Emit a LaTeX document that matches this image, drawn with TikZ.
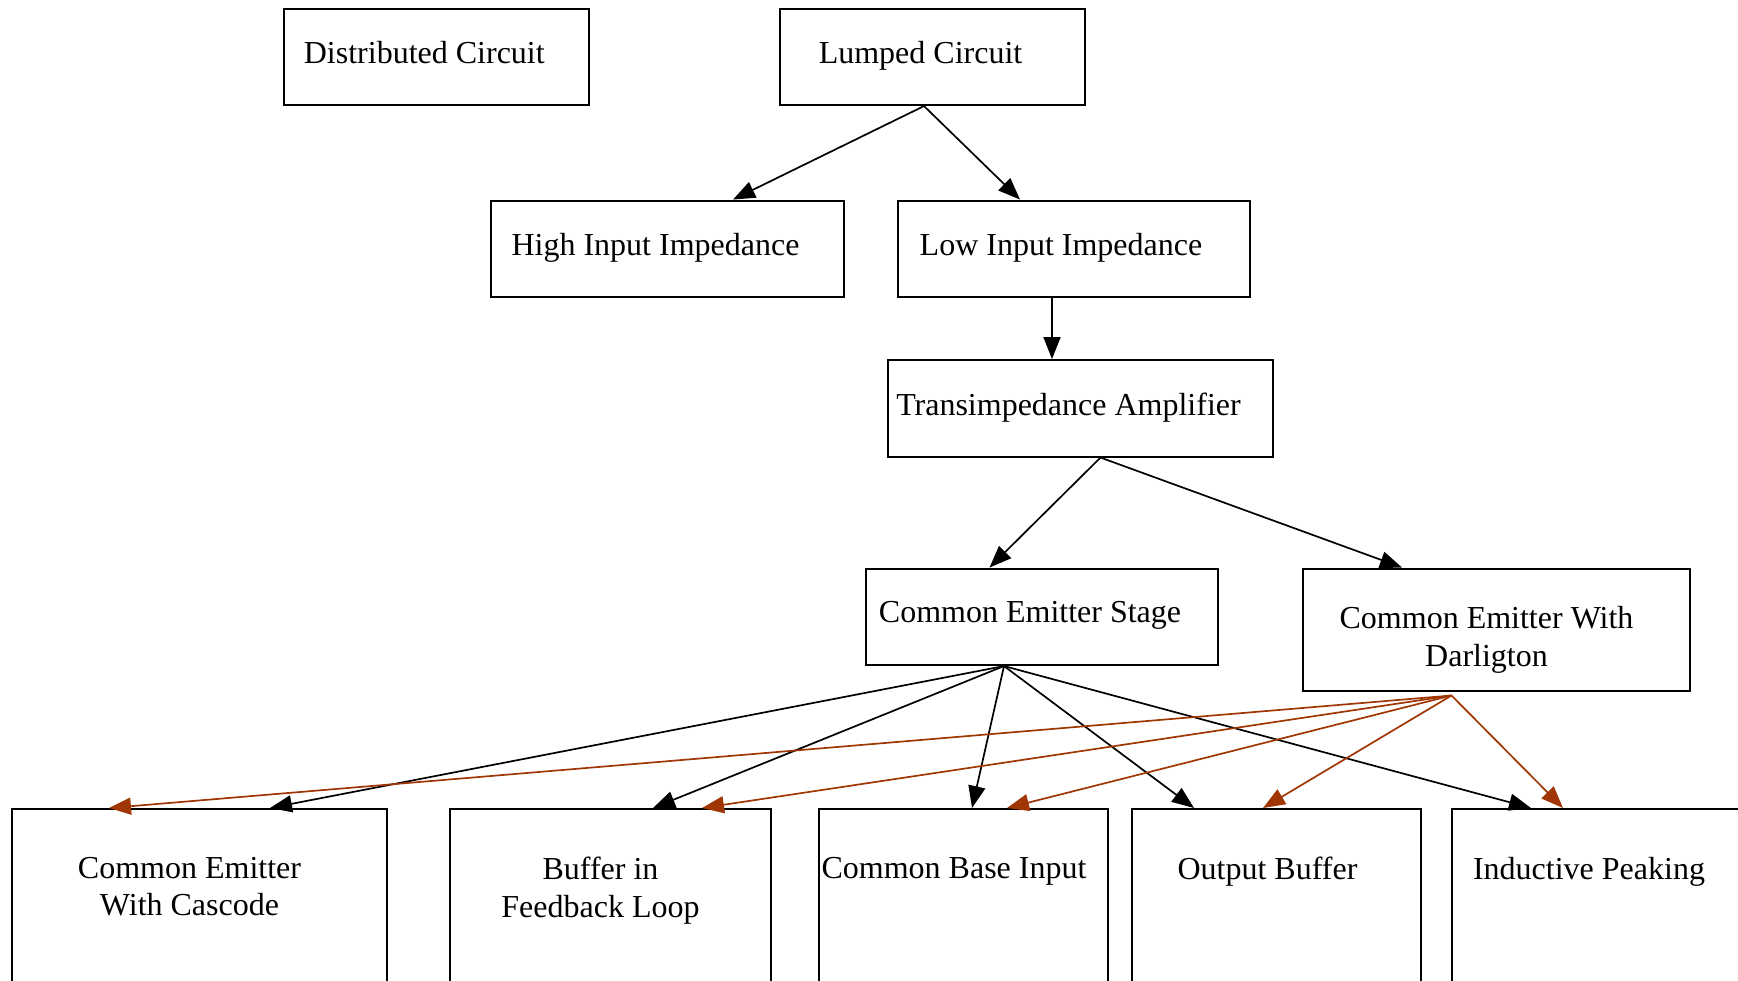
\documentclass[tikz,border=0pt]{standalone}
\usepackage{fontspec}
\setmainfont{Liberation Serif}
\usepackage{tikz}
\usetikzlibrary{arrows.meta,positioning}
\definecolor{darl}{RGB}{160,54,4}

\begin{document}
\begin{tikzpicture}[
  box/.style={draw,line width=2bp,minimum height=96.5bp,inner sep=0pt},
  lbl/.style={inner sep=0pt,align=center,font=\fontsize{32bp}{37.7bp}\selectfont},
  edge/.style={-{Triangle[length=22bp,width=17bp]},line width=1.7bp},
  redge/.style={edge,color=darl}]

\clip (0bp,0bp) rectangle (1738bp,-981bp);

\node (distributed) at (436.3bp,-56.8bp)[box,minimum width=304.5bp] {};
\node (lumped) at (932.5bp,-56.8bp)[box,minimum width=305bp] {};
\node (high) at (667.5bp,-248.8bp)[box,minimum width=353bp] {};
\node (low) at (1074bp,-248.8bp)[box,minimum width=352bp] {};
\node (tia) at (1080.5bp,-408.3bp)[box,minimum width=385bp] {};
\node (cestage) at (1042bp,-616.8bp)[box,minimum width=352bp] {};
\node (darlington) at (1496.5bp,-629.5bp)[box,minimum width=387bp,minimum height=122bp] {};
% bottom row runs off the page
\node (cascode) at (199.5bp,-808bp)[box,anchor=north,minimum width=375bp,minimum height=260bp] {};
\node (buffer) at (610.5bp,-808bp)[box,anchor=north,minimum width=321bp,minimum height=260bp] {};
\node (cbinput) at (963bp,-808bp)[box,anchor=north,minimum width=289bp,minimum height=260bp] {};
\node (outbuf) at (1276.5bp,-808bp)[box,anchor=north,minimum width=289bp,minimum height=260bp] {};
\node (peaking) at (1600bp,-808bp)[box,anchor=north,minimum width=296bp,minimum height=260bp] {};

\node (distributedtxt) [lbl,below=33.8bp of distributed.north,xshift=-12bp] {Distributed Circuit};
\node (lumpedtxt) [lbl,below=33.8bp of lumped.north,xshift=-12bp] {Lumped Circuit};
\node (hightxt) [lbl,below=33.8bp of high.north,xshift=-12bp] {High Input Impedance};
\node (lowtxt) [lbl,below=33.8bp of low.north,xshift=-13bp] {Low Input Impedance};
\node (tiatxt) [lbl,below=33.8bp of tia.north,xshift=-12bp] {Transimpedance Amplifier};
\node (cestagetxt) [lbl,below=33.8bp of cestage.north,xshift=-12bp] {Common Emitter Stage};
\node (darlingtontxt) [lbl,below=38.8bp of darlington.north,xshift=-10bp] {Common Emitter With\\Darligton};
\node (cascodetxt) [lbl,below=48.7bp of cascode.north,xshift=-10bp] {Common Emitter\\With Cascode};
\node (buffertxt) [lbl,below=48.7bp of buffer.north,xshift=-10bp] {Buffer in\\Feedback Loop};
\node (cbinputtxt) [lbl,below=48.7bp of cbinput.north,xshift=-9bp] {Common Base Input};
\node (outbuftxt) [lbl,below=48.7bp of outbuf.north,xshift=-9bp] {Output Buffer};
\node (peakingtxt) [lbl,below=48.7bp of peaking.north,xshift=-11bp] {Inductive Peaking};

\draw [edge] ([xshift=-8.5bp]lumped.south) -- ([xshift=65.5bp]high.north);
\draw [edge] ([xshift=-8.5bp]lumped.south) -- ([xshift=-54bp]low.north);
\draw [edge] ([xshift=-22bp]low.south) -- ([xshift=-28.5bp]tia.north);
\draw [edge] ([xshift=20bp]tia.south) -- ([xshift=-52.5bp]cestage.north);
\draw [edge] ([xshift=20bp]tia.south) -- ([xshift=-94.5bp]darlington.north);

\draw [edge] ([xshift=-38bp]cestage.south) -- ([xshift=70.5bp]cascode.north);
\draw [edge] ([xshift=-38bp]cestage.south) -- ([xshift=42.5bp]buffer.north);
\draw [edge] ([xshift=-38bp]cestage.south) -- ([xshift=9bp]cbinput.north);
\draw [edge] ([xshift=-38bp]cestage.south) -- ([xshift=-82.5bp]outbuf.north);
\draw [edge] ([xshift=-38bp]cestage.south) -- ([xshift=-69bp]peaking.north);

\draw [redge] ([xshift=-45bp,yshift=-4bp]darlington.south) -- ([xshift=-90.5bp]cascode.north);
\draw [redge] ([xshift=-45bp,yshift=-4bp]darlington.south) -- ([xshift=91.5bp]buffer.north);
\draw [redge] ([xshift=-45bp,yshift=-4bp]darlington.south) -- ([xshift=44bp]cbinput.north);
\draw [redge] ([xshift=-45bp,yshift=-4bp]darlington.south) -- ([xshift=-13.5bp]outbuf.north);
\draw [redge] ([xshift=-45bp,yshift=-4bp]darlington.south) -- ([xshift=-37bp]peaking.north);
\end{tikzpicture}
\end{document}
